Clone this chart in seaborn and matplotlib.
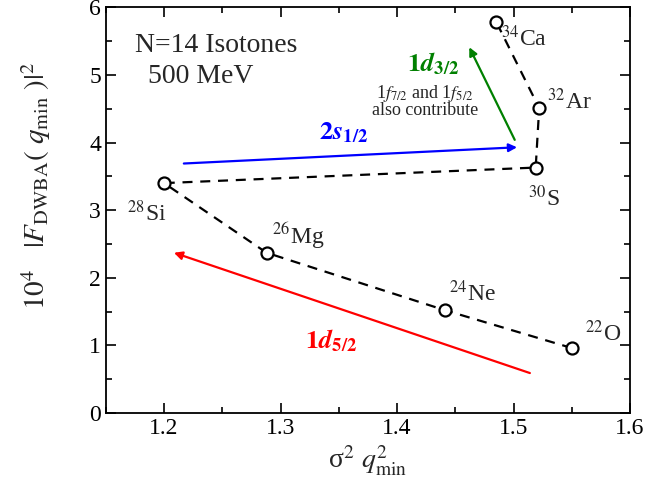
import matplotlib
matplotlib.use("Agg")
import matplotlib.pyplot as plt
import seaborn as sns
import pandas as pd
from matplotlib.ticker import MultipleLocator

# data
nuclei = ["$^{22}$O", "$^{24}$Ne", "$^{26}$Mg", "$^{28}$Si", "$^{30}$S", "$^{32}$Ar", "$^{34}$Ca"]
x_vals = [1.550, 1.441, 1.288, 1.200, 1.519, 1.522, 1.485]
y_vals = [0.96, 1.52, 2.37, 3.40, 3.63, 4.51, 5.79]
label_dx = [0.011, 0.004, 0.005, -0.032, -0.007, 0.007, 0.004]
label_dy = [0.22, 0.25, 0.25, -0.45, -0.45, 0.10, -0.25]

# arrows (start -> end)
blue_arrow = [(1.217, 3.69), (1.503, 3.93)]
green_arrow = [(1.501, 4.04), (1.462, 5.41)]
red_arrow = [(1.514, 0.59), (1.2085, 2.37)]

sns.set_theme(style="ticks")
plt.rcParams["font.family"] = ["Liberation Serif", "DejaVu Serif"]
plt.rcParams["mathtext.fontset"] = "stix"

fig = plt.figure(figsize=(6.57, 4.91), dpi=100)
ax = fig.add_axes([0.161, 0.159, 0.798, 0.826])

df = pd.DataFrame({"x": x_vals, "y": y_vals, "n": nuclei})
sns.lineplot(data=df, x="x", y="y", sort=False, ax=ax, color="black",
             linestyle=(0, (4.5, 3.5)), linewidth=1.6, estimator=None)
sns.scatterplot(data=df, x="x", y="y", ax=ax, s=75, facecolor="white",
                edgecolor="black", linewidth=1.6, zorder=5)

for n, x, y, dx, dy in zip(nuclei, x_vals, y_vals, label_dx, label_dy):
    ax.text(x + dx, y + dy, n, fontsize=17, ha="left", va="center")

def arrow(a, color):
    ax.annotate("", xy=a[1], xytext=a[0],
                arrowprops=dict(arrowstyle="-|>", color=color, lw=1.6,
                                mutation_scale=12, shrinkA=0, shrinkB=0))

arrow(blue_arrow, "blue")
arrow(green_arrow, "green")
arrow(red_arrow, "red")

ax.text(1.354, 4.14, r"$\mathbf{2}\boldsymbol{s}_{\mathbf{1/2}}$", color="blue", fontsize=19, ha="center", va="center")
ax.text(1.431, 5.16, r"$\mathbf{1}\boldsymbol{d}_{\mathbf{3/2}}$", color="green", fontsize=19, ha="center", va="center")
ax.text(1.424, 4.62, r"1$f_{7/2}$ and 1$f_{5/2}$" + "\nalso contribute", fontsize=13,
        ha="center", va="center", linespacing=0.85)
ax.text(1.343, 1.07, r"$\mathbf{1}\boldsymbol{d}_{\mathbf{5/2}}$", color="red", fontsize=19, ha="center", va="center")

ax.text(0.055, 0.905, "N=14 Isotones", transform=ax.transAxes, fontsize=20, ha="left", va="center")
ax.text(0.08, 0.83, "500 MeV", transform=ax.transAxes, fontsize=20, ha="left", va="center")

ax.set_xlim(1.15, 1.6)
ax.set_ylim(0, 6)
ax.xaxis.set_major_locator(MultipleLocator(0.1))
ax.xaxis.set_minor_locator(MultipleLocator(0.05))
ax.yaxis.set_major_locator(MultipleLocator(1))
ax.yaxis.set_minor_locator(MultipleLocator(0.5))
ax.tick_params(which="both", direction="in", top=True, right=True, labelsize=17, width=1.2, colors="black")
ax.tick_params(which="major", length=7)
ax.tick_params(which="minor", length=4)
for s in ax.spines.values():
    s.set_linewidth(1.3)
    s.set_color("black")

ax.set_xlabel("σ$^2$ $q^2_{\\rm min}$", fontsize=20)
ax.set_ylabel(r"$10^4\ \ \ |F_{\rm DWBA}(\ q_{\rm min}\ )|^2$", fontsize=21)
ax.yaxis.set_label_coords(-0.1, 0.56)

fig.savefig("out.png", dpi=100)
